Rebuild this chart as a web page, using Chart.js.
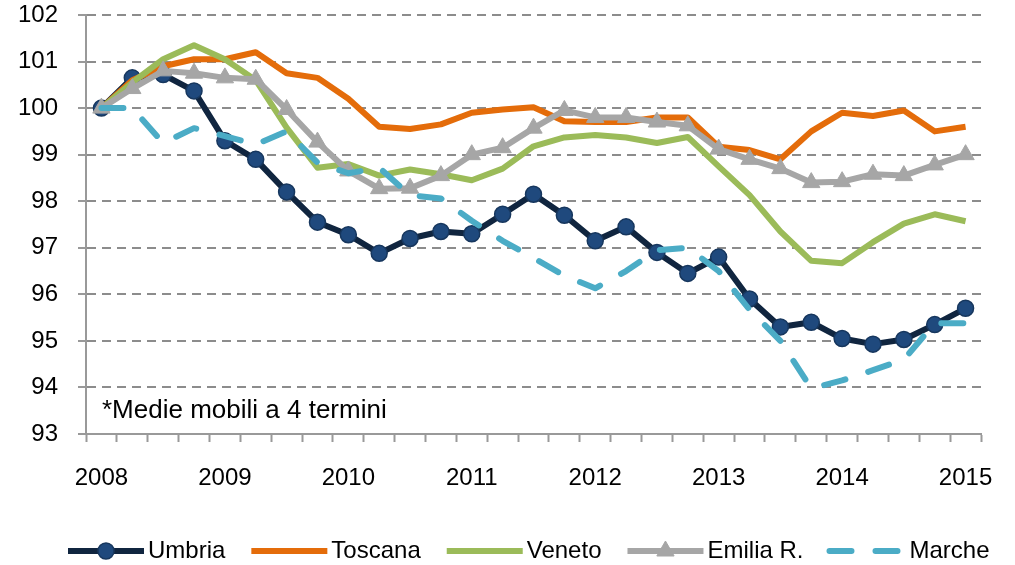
<!DOCTYPE html>
<html>
<head>
<meta charset="utf-8">
<script src="https://cdn.jsdelivr.net/npm/chart.js@4.4.0/dist/chart.umd.min.js"></script>
<style>
  html, body { margin: 0; padding: 0; background: #fff; }
  #wrap { width: 1015px; height: 565px; }
</style>
</head>
<body>
<div id="wrap"><canvas id="chart" width="1015" height="565"></canvas></div>
<script>
// anni mostrati sull'asse (un trimestre per punto)
const years = ['2008', '2009', '2010', '2011', '2012', '2013', '2014', '2015'];
const categories = years.flatMap(y => ['T1', 'T2', 'T3', 'T4'].map(q => y + ' ' + q)).slice(0, 29);

const umbria  = [100.0, 100.65, 100.72, 100.37, 99.3, 98.9, 98.2, 97.55, 97.28, 96.88, 97.2, 97.35, 97.3, 97.72, 98.15,
                 97.7, 97.15, 97.45, 96.9, 96.45, 96.8, 95.9, 95.3, 95.4, 95.05, 94.93, 95.03, 95.35, 95.7];
const toscana = [100.0, 100.6, 100.9, 101.05, 101.05, 101.2, 100.75, 100.65, 100.2, 99.6, 99.55, 99.65, 99.9, 99.97, 100.02,
                 99.72, 99.7, 99.7, 99.8, 99.8, 99.17, 99.1, 98.9, 99.5, 99.9, 99.83, 99.95, 99.5, 99.6];
const veneto  = [100.0, 100.55, 101.05, 101.35, 101.05, 100.6, 99.58, 98.72, 98.8, 98.55, 98.68, 98.58, 98.45, 98.7, 99.18,
                 99.37, 99.42, 99.37, 99.25, 99.38, 98.75, 98.13, 97.35, 96.72, 96.67, 97.12, 97.52, 97.72, 97.57];
const emilia  = [100.0, 100.42, 100.8, 100.75, 100.65, 100.62, 99.97, 99.27, 98.65, 98.27, 98.28, 98.55, 99.0, 99.15, 99.57,
                 99.95, 99.8, 99.8, 99.7, 99.62, 99.12, 98.9, 98.7, 98.4, 98.42, 98.58, 98.55, 98.78, 99.0];
const marche  = [100.0, 100.0, 99.25, 99.57, 99.4, 99.22, 99.5, 98.83, 98.6, 98.72, 98.13, 98.06, 97.58, 97.15, 96.78,
                 96.4, 96.13, 96.5, 96.95, 97.0, 96.5, 95.67, 95.0, 93.98, 94.15, 94.37, 94.6, 95.38, 95.38];

const noteText = '*Medie mobili a 4 termini';
const tickFont = { family: '"Liberation Sans", Arial, sans-serif', size: 24 };

// legenda disegnata a mano: linea + marcatore + testo
const overlay = {
  id: 'overlay',
  afterDraw(chart) {
    const ctx = chart.ctx;
    const area = chart.chartArea;
    ctx.save();
    ctx.fillStyle = '#000';
    ctx.font = '26px "Liberation Sans", Arial, sans-serif';
    ctx.textBaseline = 'alphabetic';
    ctx.fillText(noteText, area.left + 16, area.bottom - 16);

    ctx.font = '24px "Liberation Sans", Arial, sans-serif';
    ctx.textBaseline = 'middle';
    let x = 68;
    const y = 551;
    chart.data.datasets.forEach(ds => {
      ctx.save();
      ctx.strokeStyle = ds.borderColor;
      ctx.lineWidth = ds.borderWidth;
      ctx.lineCap = ds.borderCapStyle || 'butt';
      ctx.setLineDash(ds.borderDash || []);
      ctx.beginPath();
      ctx.moveTo(x, y);
      ctx.lineTo(x + 76, y);
      ctx.stroke();
      ctx.restore();
      const cx = x + 38;
      if (ds.pointRadius > 0) {
        ctx.save();
        ctx.fillStyle = ds.pointBackgroundColor;
        ctx.strokeStyle = ds.pointBorderColor;
        ctx.lineWidth = ds.pointBorderWidth || 1;
        ctx.beginPath();
        if (ds.pointStyle === 'triangle') {
          const r = ds.pointRadius;
          ctx.moveTo(cx, y - r);
          ctx.lineTo(cx + r * 0.866, y + r * 0.5);
          ctx.lineTo(cx - r * 0.866, y + r * 0.5);
          ctx.closePath();
        } else {
          ctx.arc(cx, y, ds.pointRadius, 0, Math.PI * 2);
        }
        ctx.fill();
        ctx.stroke();
        ctx.restore();
      }
      ctx.fillStyle = '#000';
      ctx.fillText(ds.label, x + 80, y);
      x += 80 + ctx.measureText(ds.label).width + 26;
    });
    ctx.restore();
  }
};

new Chart(document.getElementById('chart').getContext('2d'), {
  type: 'line',
  data: {
    labels: categories,
    datasets: [
      {
        label: 'Umbria', data: umbria, order: 5,
        borderColor: '#10253F', borderWidth: 6,
        pointRadius: 8, pointBackgroundColor: '#1F497D', pointBorderColor: '#17375E', pointBorderWidth: 1.5
      },
      {
        label: 'Toscana', data: toscana, order: 4,
        borderColor: '#E46C0A', borderWidth: 6, pointRadius: 0
      },
      {
        label: 'Veneto', data: veneto, order: 3,
        borderColor: '#9BBB59', borderWidth: 6, pointRadius: 0
      },
      {
        label: 'Emilia R.', data: emilia, order: 2,
        borderColor: '#A6A6A6', borderWidth: 6,
        pointStyle: 'triangle', pointRadius: 10, pointBackgroundColor: '#A6A6A6', pointBorderColor: '#A6A6A6', pointBorderWidth: 1
      },
      {
        label: 'Marche', data: marche, order: 1,
        borderColor: '#4BACC6', borderWidth: 6, borderDash: [22, 24], borderCapStyle: 'round', pointRadius: 0
      }
    ]
  },
  options: {
    responsive: false,
    animation: false,
    layout: { padding: { top: 15, right: 34, left: 0, bottom: 0 } },
    elements: { line: { tension: 0, borderJoinStyle: 'round' } },
    plugins: {
      legend: { display: false },
      tooltip: { enabled: false },
      title: { display: false }
    },
    scales: {
      x: {
        type: 'category',
        offset: true,
        grid: { offset: true, drawOnChartArea: false, tickLength: 8, tickColor: '#999', tickWidth: 2, tickBorderDash: [] },
        border: { display: true, color: '#999', width: 2 },
        ticks: {
          autoSkip: false, maxRotation: 0, padding: 22, color: '#000', font: tickFont,
          callback: function (v, i) {
            const lab = this.getLabelForValue(v);
            return lab.endsWith('T1') ? lab.slice(0, 4) : '';
          }
        },
        afterFit: (s) => { s.height = 131; s.paddingLeft = 0; s.paddingRight = 0; }
      },
      y: {
        min: 93,
        max: 102,
        grid: { color: '#8c8c8c', lineWidth: 2, tickLength: 8, tickColor: '#999', tickWidth: 2, tickBorderDash: [] },
        border: { display: true, color: '#999', width: 2, dash: [9, 6] },
        ticks: { stepSize: 1, padding: 20, color: '#000', font: tickFont },
        afterFit: (s) => { s.width = 86; s.paddingTop = 0; s.paddingBottom = 0; }
      }
    }
  },
  plugins: [overlay]
});
</script>
</body>
</html>
